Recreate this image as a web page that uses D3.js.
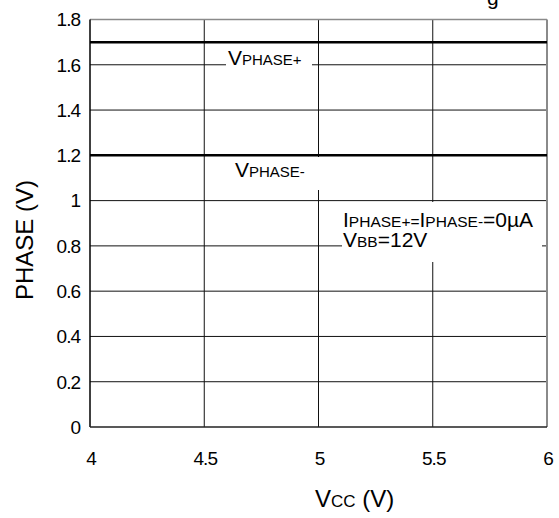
<!DOCTYPE html>
<html>
<head>
<meta charset="utf-8">
<script src="https://cdn.jsdelivr.net/npm/d3@7"></script>
<style>
  body { margin: 0; background: #fff; }
  text { font-family: "Liberation Sans", Arial, sans-serif; fill: #000; }
</style>
</head>
<body>
<svg id="grafica" width="559" height="518"></svg>
<script>
// datos
const vccValores = [4, 6];
const vPhaseMas = [1.7, 1.7];
const vPhaseMenos = [1.2, 1.2];
const xTicks = [4, 4.5, 5, 5.5, 6];
const yTicks = [0, 0.2, 0.4, 0.6, 0.8, 1, 1.2, 1.4, 1.6, 1.8];

const svg = d3.select("#grafica");
const izq = 90, der = 547, arriba = 19.5, abajo = 427;

const x = d3.scaleLinear().domain([4, 6]).range([izq, der]);
const y = d3.scaleLinear().domain([0, 1.8]).range([abajo, arriba]);

// rejilla
svg.append("g")
    .selectAll("line")
    .data(xTicks.slice(1, -1))
    .join("line")
    .attr("x1", d => x(d)).attr("x2", d => x(d))
    .attr("y1", arriba).attr("y2", abajo)
    .attr("stroke", "#111").attr("stroke-width", 1);
svg.append("g")
    .selectAll("line")
    .data(yTicks.slice(1, -1))
    .join("line")
    .attr("x1", izq).attr("x2", der)
    .attr("y1", d => y(d)).attr("y2", d => y(d))
    .attr("stroke", "#111").attr("stroke-width", 1);

// borde superior y derecho gris
svg.append("line")
    .attr("x1", izq).attr("x2", der)
    .attr("y1", arriba).attr("y2", arriba)
    .attr("stroke", "#8a8a8a").attr("stroke-width", 1.5);
svg.append("line")
    .attr("x1", der).attr("x2", der)
    .attr("y1", arriba).attr("y2", abajo)
    .attr("stroke", "#8a8a8a").attr("stroke-width", 2);

// ejes izquierdo e inferior
svg.append("line")
    .attr("x1", izq).attr("x2", izq)
    .attr("y1", arriba).attr("y2", abajo)
    .attr("stroke", "#000").attr("stroke-width", 1.5);
svg.append("line")
    .attr("x1", izq).attr("x2", der)
    .attr("y1", abajo).attr("y2", abajo)
    .attr("stroke", "#222").attr("stroke-width", 1.5);

// series
const linea = d3.line().x((d, i) => x(vccValores[i])).y(d => y(d));
[vPhaseMas, vPhaseMenos].forEach(serie => {
    svg.append("path")
        .datum(serie)
        .attr("d", linea)
        .attr("fill", "none")
        .attr("stroke", "#000")
        .attr("stroke-width", 2.5);
});

// etiquetas de ticks
svg.append("g")
    .selectAll("text")
    .data(yTicks)
    .join("text")
    .attr("x", 80)
    .attr("y", d => y(d))
    .attr("dy", "0.36em")
    .attr("text-anchor", "end")
    .style("font-size", "19px")
    .style("letter-spacing", "-1px")
    .text(d => d3.format("~g")(d));
svg.append("g")
    .selectAll("text")
    .data(xTicks)
    .join("text")
    .attr("x", d => x(d) + 1)
    .attr("y", 465)
    .attr("text-anchor", "middle")
    .style("font-size", "19px")
    .style("letter-spacing", "-1px")
    .text(d => d3.format("~g")(d));

// etiquetas con fondo blanco
function etiqueta(caja, lineas) {
    svg.append("rect")
        .attr("x", caja[0]).attr("y", caja[1])
        .attr("width", caja[2]).attr("height", caja[3])
        .attr("fill", "#fff");
    lineas.forEach(l => {
        const t = svg.append("text").attr("x", l.x).attr("y", l.y);
        l.partes.forEach(p => {
            t.append("tspan").style("font-size", p[1] + "px").text(p[0]);
        });
    });
}

etiqueta([226, 50, 86, 20], [
    { x: 228, y: 65, partes: [["V", 21], ["PHASE+", 15]] }
]);
etiqueta([208, 157, 114, 33], [
    { x: 235, y: 177, partes: [["V", 21], ["PHASE-", 15]] }
]);
etiqueta([342, 202, 200, 60], [
    { x: 343, y: 227, partes: [["I", 21], ["PHASE+=", 15.5], ["I", 21], ["PHASE-", 15.5], ["=0\u00b5A", 21]] },
    { x: 343, y: 247, partes: [["V", 21], ["BB", 15.5], ["=12V", 21]] }
]);

// titulos de ejes
svg.append("text")
    .attr("transform", "translate(33,240) rotate(-90)")
    .attr("text-anchor", "middle")
    .style("font-size", "24px")
    .text("PHASE (V)");
const tx = svg.append("text").attr("x", 315).attr("y", 507);
tx.append("tspan").style("font-size", "24px").text("V");
tx.append("tspan").style("font-size", "17px").text("CC");
tx.append("tspan").style("font-size", "24px").text(" (V)");

// resto del titulo recortado arriba
svg.append("text")
    .attr("x", 487).attr("y", 5)
    .style("font-size", "21px")
    .text("g");
</script>
</body>
</html>
